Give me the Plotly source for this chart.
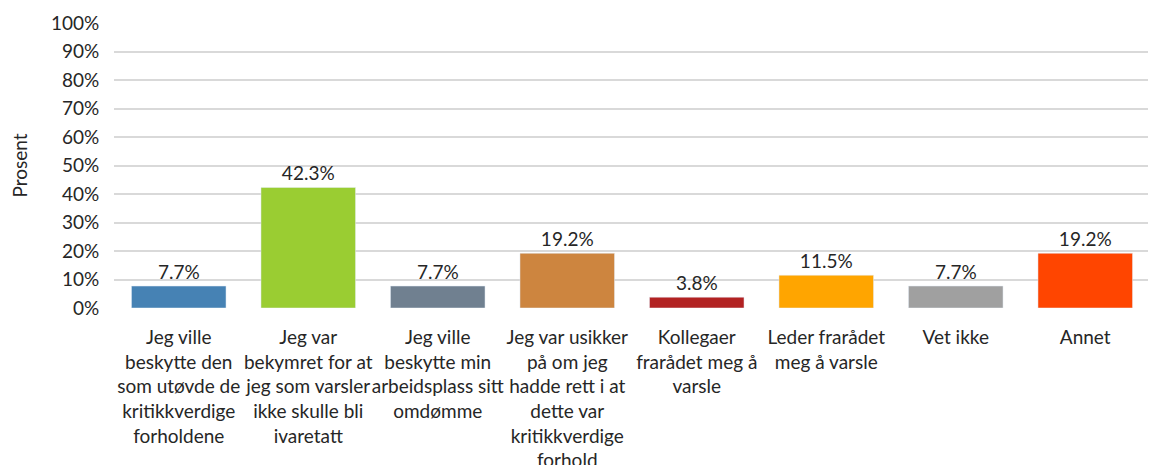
import plotly.graph_objects as go

# Chart data
categories = [
    "Jeg ville<br>beskytte den<br>som utøvde de<br>kritikkverdige<br>forholdene",
    "Jeg var<br>bekymret for at<br>jeg som varsler<br>ikke skulle bli<br>ivaretatt",
    "Jeg ville<br>beskytte min<br>arbeidsplass sitt<br>omdømme",
    "Jeg var usikker<br>på om jeg<br>hadde rett i at<br>dette var<br>kritikkverdige<br>forhold",
    "Kollegaer<br>frarådet meg å<br>varsle",
    "Leder frarådet<br>meg å varsle",
    "Vet ikke",
    "Annet",
]
values = [7.7, 42.3, 7.7, 19.2, 3.8, 11.5, 7.7, 19.2]
bar_colors = ["#4682B4", "#9ACD32", "#708090", "#CD853F",
              "#B22222", "#FFA500", "#A0A0A0", "#FF4500"]
y_ticks = [0, 10, 20, 30, 40, 50, 60, 70, 80, 90, 100]
y_ticklabels = [f"{t}%" for t in y_ticks]

font_family = "Lato, Carlito, 'Open Sans', sans-serif"

fig = go.Figure(data=[
    go.Bar(
        x=list(range(len(categories))),
        y=values,
        marker_color=bar_colors,
        text=[f"{v:.1f}%" for v in values],
        textposition='outside',
        textfont=dict(size=19, color='#262626', family=font_family),
        cliponaxis=False,
        width=0.73,
    )
])

# the page body adds an 8px offset, so margins are set 8px smaller
fig.update_layout(
    width=1156,
    height=465,
    margin=dict(l=106, r=14, t=15, b=165),
    plot_bgcolor='white',
    paper_bgcolor='white',
    font=dict(family=font_family, size=18, color='#262626'),
    showlegend=False,
    xaxis=dict(
        tickmode='array',
        tickvals=list(range(len(categories))),
        ticktext=categories,
        tickangle=0,
        showgrid=False,
        range=[-0.5, len(categories) - 0.5],
        ticks='outside',
        ticklen=12,
        tickcolor='white',
        tickfont=dict(size=19),
        automargin=False,
    ),
    yaxis=dict(
        title=dict(text='Prosent', font=dict(size=19), standoff=22),
        range=[0, 100],
        tickmode='array',
        tickvals=y_ticks,
        ticktext=y_ticklabels,
        showgrid=True,
        gridcolor='#D9D9D9',
        gridwidth=1.5,
        zeroline=False,
        ticks='outside',
        ticklen=10,
        tickcolor='white',
        tickfont=dict(size=19),
        automargin=False,
    ),
)

fig.write_html("out.html")
